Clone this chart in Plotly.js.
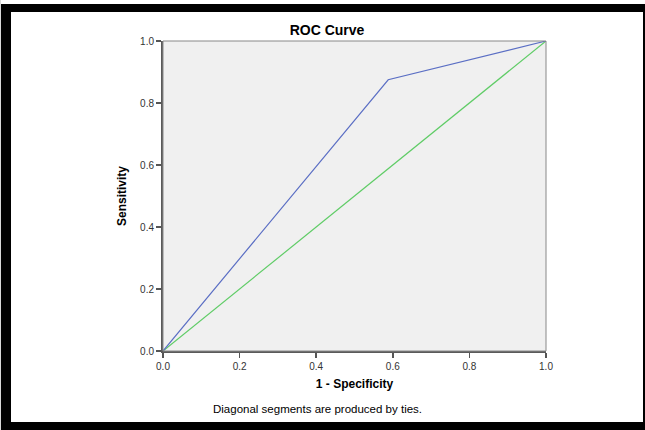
<!DOCTYPE html>
<html>
<head>
<meta charset="utf-8">
<script src="https://cdn.plot.ly/plotly-3.0.1.min.js"></script>
<style>
html,body{margin:0;padding:0;background:#fff;}
#wrap{position:relative;width:645px;height:430px;overflow:hidden;}
#chart{position:absolute;left:0;top:0;width:645px;height:430px;}
#frame{position:absolute;left:1px;top:4px;width:632px;height:410px;border-style:solid;border-color:#000;border-width:8px 2px 8px 10px;pointer-events:none;}
#edge{position:absolute;left:0;top:0;width:1px;height:430px;background:#d8d8d8;}
</style>
</head>
<body>
<div id="wrap"><div id="chart"></div><div id="edge"></div><div id="frame"></div></div>
<script>
// ROC curve points (1 - Specificity, Sensitivity)
const rocFpr = [0.0, 0.588, 1.0];
const rocTpr = [0.0, 0.875, 1.0];
// Reference diagonal
const refX = [0.0, 1.0];
const refY = [0.0, 1.0];
const tickVals = [0.0, 0.2, 0.4, 0.6, 0.8, 1.0];
const tickText = ['0.0', '0.2', '0.4', '0.6', '0.8', '1.0'];

const traces = [
  {x: refX, y: refY, mode: 'lines', line: {color: '#5fcc66', width: 1.2}, hoverinfo: 'skip', showlegend: false},
  {x: rocFpr, y: rocTpr, mode: 'lines', line: {color: '#5a6ec4', width: 1.2}, hoverinfo: 'skip', showlegend: false}
];

const axisCommon = {
  range: [0, 1], tickvals: tickVals, ticktext: tickText,
  showgrid: false, zeroline: false, showline: true, linecolor: '#5a5a5a', linewidth: 2,
  ticks: 'outside', ticklen: 5, tickwidth: 1.5, tickcolor: '#555',
  tickfont: {family: 'Liberation Sans, Arial, sans-serif', size: 10, color: '#333'}
};

const layout = {
  width: 645, height: 430,
  margin: {l: 163, r: 99, t: 41, b: 79},
  paper_bgcolor: '#ffffff', plot_bgcolor: '#f0f0f0',
  font: {family: 'Liberation Sans, Arial, sans-serif', color: '#000'},
  title: {text: '<b>ROC Curve</b>', x: 327/645, xref: 'container', xanchor: 'center', y: 1 - 30/430, yref: 'container', yanchor: 'middle',
          font: {size: 14, family: 'Liberation Sans, Arial, sans-serif', color: '#000'}},
  xaxis: Object.assign({}, axisCommon, {
    title: {text: '<b>1 - Specificity</b>', font: {size: 12}, standoff: 9}
  }),
  yaxis: Object.assign({}, axisCommon, {
    title: {text: '<b>Sensitivity</b>', font: {size: 12}, standoff: 11}
  }),
  shapes: [
    {type: 'rect', xref: 'paper', yref: 'paper', x0: 0, x1: 1, y0: 0, y1: 1, line: {color: '#888', width: 1}, fillcolor: 'rgba(0,0,0,0)', layer: 'above'}
  ],
  annotations: [
    {text: 'Diagonal segments are produced by ties.', xref: 'paper', yref: 'paper', x: (317-163)/383, y: -(409-351)/310,
     showarrow: false, xanchor: 'center', yanchor: 'middle', font: {size: 11.5, color: '#000'}}
  ]
};

Plotly.newPlot('chart', traces, layout, {displayModeBar: false, staticPlot: true});
</script>
</body>
</html>
